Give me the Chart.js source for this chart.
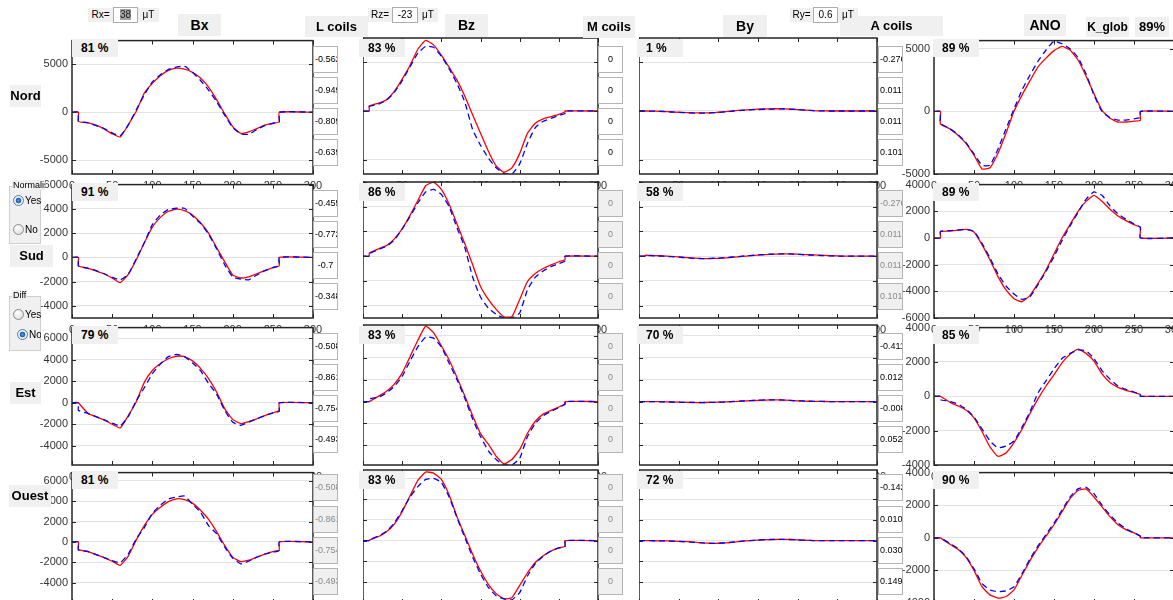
<!DOCTYPE html>
<html>
<head>
<meta charset="utf-8">
<title>Bx Bz By ANO</title>
<script src="https://cdn.jsdelivr.net/npm/chart.js@4.4.1/dist/chart.umd.min.js"></script>
<style>
body { margin: 0; background: #fff; font-family: "Liberation Sans", Arial, sans-serif; }
#fig { position: relative; width: 1173px; height: 600px; overflow: hidden; background: #fff; }
canvas { position: absolute; }
.box { position: absolute; background: #f0f0f0; font-weight: bold; color: #000; text-align: center; white-space: nowrap; z-index: 20; }
.small { position: absolute; background: #f0f0f0; font-size: 10px; color: #000; text-align: center; z-index: 22; line-height: 14px; height: 14px; }
.edit { position: absolute; background: #fff; border: 1px solid #adadad; box-sizing: border-box; font-size: 10px; text-align: center; z-index: 22; height: 16px; line-height: 14px; }
.pct { position: absolute; background: #f0f0f0; font-weight: bold; font-size: 12px; z-index: 20; padding-left: 9px; box-sizing: border-box; width: 46px; height: 18px; line-height: 18px; }
.coil { position: absolute; width: 25px; height: 27px; border: 1px solid #b4b4b4; box-sizing: border-box; font-size: 9px; line-height: 25px; text-align: center; overflow: hidden; white-space: nowrap; z-index: 20; background: #fff; color: #000; padding: 0 1px; }
.coil.off { background: #f0f0f0; color: #8a8a8a; }
.panel { position: absolute; background: #f0f0f0; border: 1px solid #cfcfcf; box-sizing: border-box; z-index: 20; }
.ptitle { position: absolute; left: 2px; top: -7px; font-size: 9px; background: #f0f0f0; padding: 0 1px; overflow: hidden; white-space: nowrap; }
.radio { position: absolute; width: 11px; height: 11px; border-radius: 50%; border: 1px solid #8c8c8c; box-sizing: border-box;
         background: radial-gradient(circle at 40% 35%, #ffffff, #d6d6d6); }
.radio.on { background: radial-gradient(circle, #4b9be8 0, #1a5fb4 2.5px, #f4f4f4 3.2px, #d6d6d6 100%); border-color: #5a7fa8; }
.rtxt { position: absolute; font-size: 10px; overflow: hidden; white-space: nowrap; line-height: 11px; }
</style>
</head>
<body>
<div id="fig">
  <!-- top controls -->
  <div class="small" style="left:88px;top:8px;width:25px;">Rx=</div>
  <div class="edit" style="left:113px;top:7px;width:25px;"><span style="background:#a3a3a3;color:#222;">38</span></div>
  <div class="small" style="left:138px;top:8px;width:21px;">μT</div>
  <div class="box" style="left:178px;top:14px;width:43px;height:22px;line-height:22px;font-size:14px;">Bx</div>
  <div class="box" style="left:305px;top:16px;width:63px;height:21px;line-height:21px;font-size:13px;">L coils</div>

  <div class="small" style="left:368px;top:8px;width:24px;">Rz=</div>
  <div class="edit" style="left:392px;top:7px;width:26px;">-23</div>
  <div class="small" style="left:418px;top:8px;width:20px;">μT</div>
  <div class="box" style="left:445px;top:14px;width:43px;height:23px;line-height:23px;font-size:14px;">Bz</div>
  <div class="box" style="left:583px;top:16px;width:52px;height:22px;line-height:22px;font-size:13px;">M coils</div>

  <div class="box" style="left:723px;top:15px;width:44px;height:22px;line-height:22px;font-size:14px;">By</div>
  <div class="small" style="left:790px;top:8px;width:23px;">Ry=</div>
  <div class="edit" style="left:813px;top:7px;width:25px;">0.6</div>
  <div class="small" style="left:838px;top:8px;width:20px;">μT</div>
  <div class="box" style="left:840px;top:16px;width:103px;height:20px;line-height:20px;font-size:13px;">A coils</div>

  <div class="box" style="left:1024px;top:14px;width:42px;height:22px;line-height:22px;font-size:14px;">ANO</div>
  <div class="box" style="left:1086px;top:17px;width:43px;height:20px;line-height:20px;font-size:12px;">K_glob</div>
  <div class="box" style="left:1135px;top:17px;width:34px;height:20px;line-height:20px;font-size:13px;">89%</div>

  <!-- row names -->
  <div class="box" style="left:10px;top:85px;width:31px;height:22px;line-height:22px;font-size:13px;">Nord</div>
  <div class="box" style="left:10px;top:245px;width:43px;height:22px;line-height:22px;font-size:13px;">Sud</div>
  <div class="box" style="left:10px;top:382px;width:31px;height:22px;line-height:22px;font-size:13px;">Est</div>
  <div class="box" style="left:9px;top:485px;width:42px;height:22px;line-height:22px;font-size:13px;">Ouest</div>

  <!-- option panels -->
  <div class="panel" style="left:9px;top:186px;width:32px;height:58px;">
    <span class="ptitle" style="max-width:31px;">Normalisation</span>
  </div>
  <div class="radio on" style="left:13px;top:195px;z-index:21;"></div>
  <div class="rtxt" style="left:25px;top:195px;width:16px;z-index:21;">Yes</div>
  <div class="radio" style="left:13px;top:224px;z-index:21;"></div>
  <div class="rtxt" style="left:25px;top:224px;width:16px;z-index:21;">No</div>

  <div class="panel" style="left:9px;top:296px;width:32px;height:55px;">
    <span class="ptitle">Diff</span>
  </div>
  <div class="radio" style="left:13px;top:309px;z-index:21;"></div>
  <div class="rtxt" style="left:25px;top:309px;width:16px;z-index:21;">Yes</div>
  <div class="radio on" style="left:17px;top:329px;z-index:21;"></div>
  <div class="rtxt" style="left:29px;top:329px;width:12px;z-index:21;">No</div>
</div>

<script>
// sample positions (same for every trace), 0..300
var xs = [0, 8, 8, 20, 30, 40, 50, 60, 70, 80, 90, 100, 110, 120, 130, 140, 150, 160, 170, 180, 190, 200, 210, 220, 230, 240, 250, 258, 258, 300];
var xTicks = [0, 50, 100, 150, 200, 250, 300];

// red = model, blue dashed = measure
var nordBxMod = [0, 0, -950, -1100, -1350, -1750, -2250, -2580, -1300, 100, 2000, 3000, 3800, 4350, 4590, 4480, 4150, 3550, 2600, 1300, -150, -1500, -2210, -2050, -1700, -1350, -1150, -990, 0, 0];
var nordBxMes = [0, 0, -950, -1100, -1400, -1700, -2150, -2450, -1350, 250, 1800, 3150, 3900, 4450, 4700, 4800, 4150, 3300, 2300, 1100, -300, -1600, -2250, -2300, -1800, -1400, -1150, -1000, 0, 0];
var nordBzMod = [0, 0, 500, 800, 1150, 2000, 3250, 4650, 6300, 7200, 6750, 5700, 4450, 3150, 1500, -400, -2260, -4100, -5600, -6250, -5800, -4350, -2260, -1250, -800, -580, -350, -80, 0, 0];
var nordBzMes = [0, 0, 450, 700, 1100, 1900, 3100, 4500, 5900, 6600, 6500, 5600, 4300, 2800, 900, -1900, -3500, -4800, -5800, -6400, -6450, -5400, -3300, -1700, -1050, -750, -450, -250, 0, 0];
var nordByMod = [0, 0, 0, -20, -50, -90, -130, -170, -190, -200, -180, -130, -60, 20, 90, 150, 190, 220, 230, 230, 200, 150, 80, 30, 10, 0, 0, 0, 0, 0];
var nordByMes = [0, 0, 0, -10, -40, -100, -140, -180, -210, -220, -200, -150, -80, 0, 60, 110, 150, 180, 200, 210, 190, 140, 80, 30, 10, 0, 0, 0, 0, 0];
var nordAnoMod = [0, 0, -1000, -1400, -1900, -2550, -3500, -4600, -4500, -3350, -1750, 0, 1300, 2450, 3550, 4250, 4850, 5190, 4900, 4100, 2830, 1400, 80, -550, -850, -850, -780, -720, 0, 0];
var nordAnoMes = [0, 0, -950, -1400, -1850, -2500, -3400, -4300, -4300, -3000, -1400, 200, 1700, 2900, 4000, 4900, 5600, 5400, 5000, 4300, 3000, 1300, 0, -500, -700, -700, -600, -500, 0, 0];

var sudBxMod = [0, 0, -700, -900, -1120, -1350, -1700, -2080, -1400, -200, 1200, 2500, 3300, 3800, 3970, 3850, 3500, 2850, 2000, 800, -350, -1450, -1700, -1600, -1350, -1100, -850, -690, 0, 0];
var sudBxMes = [0, 0, -700, -900, -1100, -1350, -1650, -1850, -1400, -100, 1200, 2700, 3500, 3950, 4050, 4050, 3400, 2800, 1900, 700, -600, -1600, -1800, -1850, -1450, -1100, -850, -700, 0, 0];
var sudBzMod = [0, 0, 250, 600, 850, 1400, 2200, 3300, 4500, 5700, 6000, 5400, 4200, 2600, 1000, -700, -2460, -3500, -4300, -4900, -4900, -3500, -2050, -1400, -1000, -700, -450, -280, 0, 0];
var sudBzMes = [0, 0, 200, 550, 800, 1300, 2200, 3200, 4300, 5200, 5400, 5000, 4000, 2300, 700, -1700, -3300, -4200, -4700, -5000, -5000, -4600, -2700, -1700, -1200, -850, -600, -400, 0, 0];
var sudByMod = [0, 0, 80, 50, 20, -20, -60, -110, -160, -190, -190, -170, -130, -80, -20, 40, 80, 120, 160, 180, 190, 170, 130, 100, 80, 50, 20, 0, 0, 0];
var sudByMes = [0, 0, 40, 30, 0, -40, -80, -130, -170, -200, -180, -150, -110, -60, 0, 50, 100, 140, 170, 190, 180, 150, 110, 80, 50, 30, 10, 0, 0, 0];
var sudAnoMod = [0, 0, 480, 520, 580, 640, 450, -500, -1650, -2900, -3900, -4550, -4780, -4300, -3400, -2400, -1200, 0, 1000, 2000, 2740, 3190, 2750, 2150, 1650, 1300, 1000, 780, 0, 0];
var sudAnoMes = [0, 0, 500, 550, 600, 650, 500, -400, -1500, -2700, -3600, -4200, -4600, -4400, -3500, -2500, -1400, -200, 900, 1900, 2900, 3450, 3200, 2400, 1800, 1400, 1050, 800, 0, 0];

var estBxMod = [0, 0, 0, -1000, -1300, -1600, -2000, -2350, -1200, 100, 1900, 3000, 3650, 4100, 4330, 4300, 3900, 3200, 2250, 1000, -550, -1550, -1940, -1750, -1500, -1200, -950, -710, 0, 0];
var estBxMes = [0, 0, -700, -1000, -1300, -1600, -1900, -2150, -1300, 200, 1400, 2700, 3600, 4300, 4500, 4300, 3700, 3000, 1800, 800, -700, -1800, -2100, -1800, -1500, -1200, -950, -800, 0, 0];
var estBzMod = [0, 0, 0, 500, 950, 1600, 2600, 4100, 5600, 6900, 6300, 5100, 3800, 2200, 500, -1300, -2930, -3900, -5000, -5700, -5300, -4400, -2900, -1800, -1150, -800, -500, -200, 0, 0];
var estBzMes = [0, 0, 250, 400, 800, 1400, 2300, 3700, 5000, 5900, 5800, 5000, 3500, 2000, 300, -1600, -3200, -4500, -5300, -5800, -5800, -5200, -3200, -2000, -1300, -900, -550, -250, 0, 0];
var estByMod = [0, 0, 0, -10, -20, -40, -60, -80, -90, -90, -80, -60, -30, 0, 40, 80, 110, 140, 150, 140, 110, 70, 40, 20, 10, 0, 0, 0, 0, 0];
var estByMes = [0, 0, 0, -10, -20, -40, -60, -70, -80, -90, -80, -60, -30, 10, 50, 90, 120, 150, 160, 150, 110, 70, 40, 20, 10, 0, 0, 0, 0, 0];
var estAnoMod = [0, 0, 0, -350, -560, -800, -1250, -2050, -2950, -3500, -3300, -2700, -1920, -1000, -150, 600, 1250, 1950, 2450, 2750, 2500, 2050, 1300, 800, 520, 350, 220, 100, 0, 0];
var estAnoMes = [0, 0, -200, -300, -450, -750, -1200, -1900, -2600, -3000, -2900, -2600, -1800, -900, 200, 900, 1600, 2200, 2500, 2700, 2650, 2200, 1500, 1000, 600, 400, 250, 100, 0, 0];

var ouestBxMod = [0, 0, -750, -950, -1250, -1550, -1900, -2300, -1400, 200, 1600, 2700, 3400, 3950, 4230, 4150, 3800, 3100, 2200, 1000, -350, -1500, -1930, -1800, -1500, -1200, -950, -820, 0, 0];
var ouestBxMes = [0, 0, -800, -950, -1250, -1550, -1850, -2050, -1200, 300, 1400, 2800, 3600, 4200, 4400, 4500, 3700, 2900, 1600, 800, -500, -1600, -2150, -1900, -1500, -1200, -1000, -850, 0, 0];
var ouestBzMod = [0, 0, 50, 400, 850, 1600, 2800, 4300, 5800, 6600, 6500, 5900, 4400, 2300, 500, -1300, -2900, -4200, -5100, -5600, -5500, -4300, -3100, -2100, -1450, -1000, -700, -550, 0, 0];
var ouestBzMes = [0, 0, 100, 450, 900, 1700, 2900, 4200, 5200, 5900, 6000, 5600, 4200, 2200, 300, -1600, -3200, -4500, -5300, -5600, -5700, -5000, -3400, -2200, -1500, -1000, -700, -550, 0, 0];
var ouestByMod = [0, 0, 0, -10, -20, -40, -60, -100, -150, -210, -250, -250, -210, -140, -60, 0, 50, 90, 110, 120, 110, 80, 40, 10, 0, 0, 0, 0, 0, 0];
var ouestByMes = [0, 0, 0, -10, -20, -40, -70, -110, -160, -220, -260, -250, -200, -130, -50, 10, 60, 100, 120, 130, 110, 70, 30, 10, 0, 0, 0, 0, 0, 0];
var ouestAnoMod = [0, 0, 0, -400, -700, -1200, -2000, -3000, -3500, -3700, -3600, -3200, -2300, -1400, -600, 100, 800, 1600, 2400, 2900, 3000, 2500, 1900, 1300, 800, 500, 300, 100, 0, 0];
var ouestAnoMes = [0, 0, 0, -350, -650, -1150, -1900, -2800, -3200, -3300, -3250, -3000, -2200, -1300, -500, 200, 900, 1700, 2500, 3000, 3100, 2700, 2000, 1400, 900, 550, 300, 100, 0, 0];

// correlation labels
var pctLabels = [
  ["81 %", "83 %", "1 %", "89 %"],
  ["91 %", "86 %", "58 %", "89 %"],
  ["79 %", "83 %", "70 %", "85 %"],
  ["81 %", "83 %", "72 %", "90 %"]
];
// coil coefficients (text of the edit boxes)
var lCoils = [["-0.562", "-0.949", "-0.809", "-0.639"], ["-0.455", "-0.772", "-0.7", "-0.348"], ["-0.508", "-0.861", "-0.754", "-0.493"], ["-0.508", "-0.861", "-0.754", "-0.493"]];
var mCoils = [["0", "0", "0", "0"], ["0", "0", "0", "0"], ["0", "0", "0", "0"], ["0", "0", "0", "0"]];
var aCoils = [["-0.276", "0.0115", "0.011", "0.101"], ["-0.276", "0.0115", "0.011", "0.101"], ["-0.411", "0.0127", "-0.008", "0.0523"], ["-0.142", "0.0103", "0.0302", "0.149"]];
var lOn = [true, true, true, false];
var mOn = [true, false, false, false];
var aOn = [true, false, true, true];

var series = [
  [[nordBxMod, nordBxMes], [nordBzMod, nordBzMes], [nordByMod, nordByMes], [nordAnoMod, nordAnoMes]],
  [[sudBxMod, sudBxMes], [sudBzMod, sudBzMes], [sudByMod, sudByMes], [sudAnoMod, sudAnoMes]],
  [[estBxMod, estBxMes], [estBzMod, estBzMes], [estByMod, estByMes], [estAnoMod, estAnoMes]],
  [[ouestBxMod, ouestBxMes], [ouestBzMod, ouestBzMes], [ouestByMod, ouestByMes], [ouestAnoMod, ouestAnoMes]]
];

// layout of the axes
var cols = [
  { left: 72, width: 241, labels: true, pct: 72 },
  { left: 363, width: 235, labels: false, pct: 359 },
  { left: 639, width: 238, labels: false, pct: 637 },
  { left: 934, width: 240, labels: true, pct: 933 }
];
var rows = [
  { top: 38, height: 136, lim: [-6430, 7450], ticks: [-5000, 0, 5000], anoLim: [-5000, 5650], anoTicks: [-5000, 0, 5000], coilTop: [46, 77, 108, 139] },
  { top: 182, height: 136, lim: [-5000, 6000], ticks: [-4000, -2000, 0, 2000, 4000, 6000], anoLim: [-6000, 4000], anoTicks: [-6000, -4000, -2000, 0, 2000, 4000], coilTop: [190, 221, 252, 283] },
  { top: 325, height: 140, lim: [-5800, 7000], ticks: [-4000, -2000, 0, 2000, 4000, 6000], anoLim: [-4000, 4000], anoTicks: [-4000, -2000, 0, 2000, 4000], coilTop: [333, 364, 395, 426] },
  { top: 470, height: 133, lim: [-6000, 6800], ticks: [-4000, -2000, 0, 2000, 4000, 6000], anoLim: [-4000, 4000], anoTicks: [-4000, -2000, 0, 2000, 4000], coilTop: [474, 506, 537, 568] }
];

var matBox = {
  id: 'matBox',
  beforeDraw: function (chart) {
    var a = chart.chartArea, c = chart.ctx;
    c.save();
    c.fillStyle = '#ffffff';
    c.fillRect(a.left, a.top, a.right - a.left, a.bottom - a.top);
    c.restore();
  },
  afterDraw: function (chart, args, opts) {
    var a = chart.chartArea, c = chart.ctx;
    var sx = chart.scales.x, sy = chart.scales.y;
    c.save();
    c.strokeStyle = '#262626';
    c.lineWidth = 1;
    c.beginPath();
    xTicks.forEach(function (v) {
      var p = Math.round(sx.getPixelForValue(v)) + 0.5;
      c.moveTo(p, a.top); c.lineTo(p, a.top + 4);
      c.moveTo(p, a.bottom); c.lineTo(p, a.bottom - 4);
    });
    sy.ticks.forEach(function (t) {
      var p = Math.round(sy.getPixelForValue(t.value)) + 0.5;
      c.moveTo(a.left, p); c.lineTo(a.left + 4, p);
      c.moveTo(a.right, p); c.lineTo(a.right - 4, p);
    });
    c.stroke();
    c.lineWidth = 1.5;
    c.strokeRect(a.left, a.top, a.right - a.left, a.bottom - a.top);
    if (opts.xLabels) {
      // tick labels sit under the next row of axes, only their tops show
      c.fillStyle = '#333';
      c.font = '11px "Liberation Sans", Arial';
      c.textAlign = 'center';
      c.textBaseline = 'top';
      xTicks.forEach(function (v) { c.fillText(String(v), sx.getPixelForValue(v), a.bottom + 6); });
    }
    c.restore();
  }
};

function pts(ys) {
  return xs.map(function (x, i) { return { x: x, y: ys[i] }; });
}

var fig = document.getElementById('fig');

function makeAxes(r, k) {
  var row = rows[r], col = cols[k];
  var isAno = (k === 3);
  var lim = isAno ? row.anoLim : row.lim;
  var tks = isAno ? row.anoTicks : row.ticks;
  var yw = col.labels ? 60 : 0;
  var padT = 8, padB = 22, padR = 14;
  var cv = document.createElement('canvas');
  cv.width = yw + col.width + padR;
  cv.height = padT + row.height + padB;
  cv.style.left = (col.left - yw) + 'px';
  cv.style.top = (row.top - padT) + 'px';
  var z = 2 + r * 2;
  if (isAno && r === 1) z = 7;
  cv.style.zIndex = z;
  fig.appendChild(cv);

  var mod = series[r][k][0], mes = series[r][k][1];
  new Chart(cv, {
    type: 'line',
    data: {
      datasets: [
        { data: pts(mes), borderColor: '#0000ff', borderWidth: 1.3, borderDash: [6, 4], pointRadius: 0, fill: false, tension: 0.15 },
        { data: pts(mod), borderColor: '#ff0000', borderWidth: 1.3, pointRadius: 0, fill: false, tension: 0.15 }
      ]
    },
    options: {
      responsive: false,
      animation: false,
      events: [],
      layout: { padding: { left: 0, right: padR, top: padT, bottom: padB } },
      plugins: {
        legend: { display: false },
        tooltip: { enabled: false },
        matBox: { xLabels: r < 3 }
      },
      scales: {
        x: { type: 'linear', display: false, min: 0, max: 300 },
        y: {
          min: lim[0], max: lim[1],
          afterBuildTicks: function (s) { s.ticks = tks.map(function (v) { return { value: v }; }); },
          afterFit: function (s) { s.width = yw; },
          ticks: { display: col.labels, autoSkip: false, color: '#333', padding: 4,
                   font: { size: 11, family: '"Liberation Sans", Arial' },
                   callback: function (v) { return String(v); } },
          grid: { color: '#e3e3e3', lineWidth: 1, drawTicks: false },
          border: { display: false }
        }
      }
    },
    plugins: [matBox]
  });

  var p = document.createElement('div');
  p.className = 'pct';
  p.style.left = col.pct + 'px';
  p.style.top = (row.top + 1) + 'px';
  p.textContent = pctLabels[r][k];
  fig.appendChild(p);
}

function coilBox(x, y, txt, on) {
  var d = document.createElement('div');
  d.className = on ? 'coil' : 'coil off';
  d.style.left = x + 'px';
  d.style.top = y + 'px';
  d.textContent = txt;
  fig.appendChild(d);
}

for (var r = 0; r < 4; r++) {
  for (var k = 0; k < 4; k++) makeAxes(r, k);
  for (var j = 0; j < 4; j++) {
    var y = rows[r].coilTop[j];
    coilBox(313, y, lCoils[r][j], lOn[r]);
    coilBox(598, y, mCoils[r][j], mOn[r]);
    coilBox(878, y, aCoils[r][j], aOn[r]);
  }
}
</script>
</body>
</html>
